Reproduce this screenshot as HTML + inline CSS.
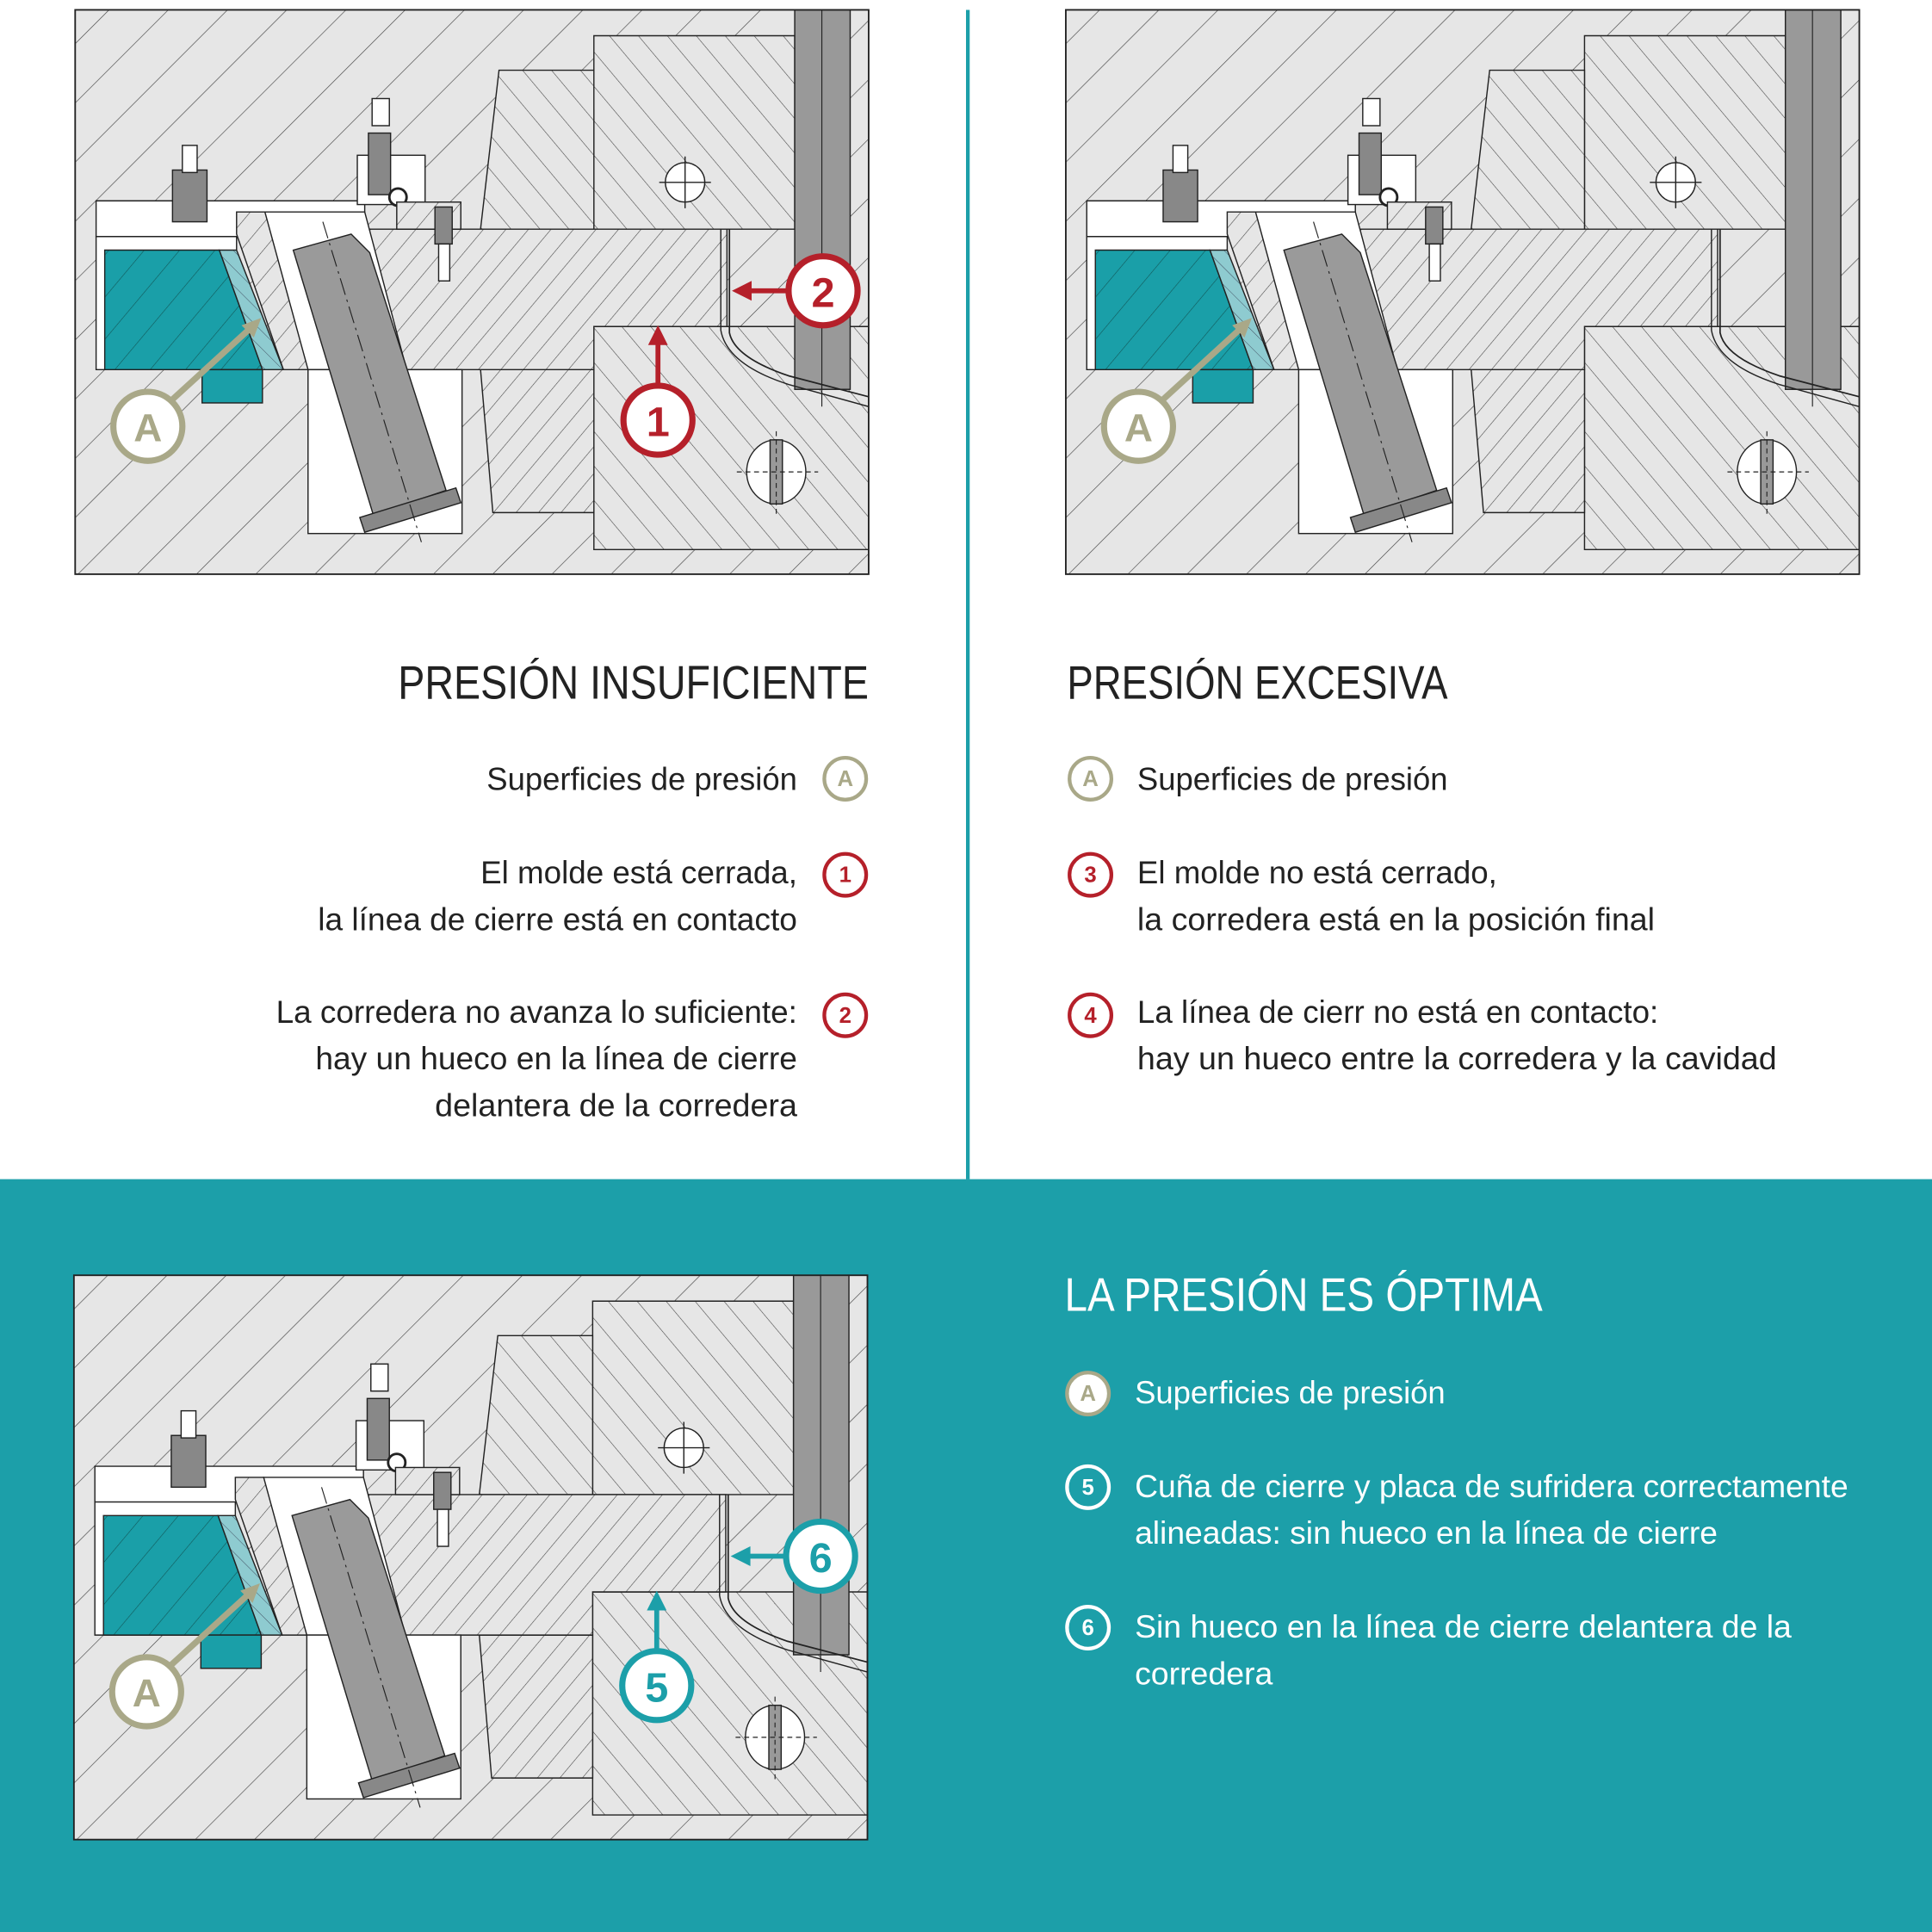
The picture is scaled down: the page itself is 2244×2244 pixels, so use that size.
<!DOCTYPE html>
<html><head><meta charset="utf-8"><style>html,body{margin:0;padding:0;background:#fff}svg{display:block}</style></head>
<body>
<svg width="2244" height="2244" viewBox="0 0 1568 1568" xmlns="http://www.w3.org/2000/svg" font-family="Liberation Sans, sans-serif">
<defs>
<pattern id="hb" patternUnits="userSpaceOnUse" width="34" height="34" patternTransform="rotate(45)"><rect width="34" height="34" fill="#e6e6e6"/><line x1="0" y1="0" x2="0" y2="34" stroke="#444" stroke-width="0.9"/></pattern>
<pattern id="hs" patternUnits="userSpaceOnUse" width="14" height="14" patternTransform="rotate(40)"><rect width="14" height="14" fill="#e6e6e6"/><line x1="0" y1="0" x2="0" y2="14" stroke="#444" stroke-width="0.8"/></pattern>
<pattern id="hr" patternUnits="userSpaceOnUse" width="18" height="18" patternTransform="rotate(-40)"><rect width="18" height="18" fill="#e6e6e6"/><line x1="0" y1="0" x2="0" y2="18" stroke="#444" stroke-width="0.8"/></pattern>
<pattern id="ht" patternUnits="userSpaceOnUse" width="22" height="22" patternTransform="rotate(40)"><rect width="22" height="22" fill="#1a9fa8"/><line x1="0" y1="0" x2="0" y2="22" stroke="#155" stroke-width="0.8"/></pattern>
<pattern id="hl" patternUnits="userSpaceOnUse" width="10" height="10" patternTransform="rotate(-45)"><rect width="10" height="10" fill="#8ecbd0"/><line x1="0" y1="0" x2="0" y2="10" stroke="#456" stroke-width="0.7"/></pattern>
<clipPath id="cp"><rect x="61" y="8" width="644" height="458"/></clipPath>
<g id="d">
<g clip-path="url(#cp)" stroke="#222" stroke-width="1">
<rect x="61" y="8" width="644" height="458" fill="url(#hb)" stroke="none"/>
<polygon points="482,29 645,29 645,186 482,186" fill="url(#hr)"/>
<polygon points="405,57 482,57 482,186 390,186" fill="url(#hr)"/>
<polygon points="482,265 705,265 705,446 482,446" fill="url(#hr)"/>
<polygon points="390,300 482,300 482,416 400,416" fill="url(#hs)"/>
<polygon points="78,163 296,163 296,192 78,192" fill="#fff"/>
<polygon points="78,192 192,192 192,300 78,300" fill="#fff"/>
<polygon points="192,172 215,172 296,186 590,186 590,265 482,265 482,300 230,300 192,190" fill="url(#hs)"/>
<polygon points="215,172 296,172 330,300 250,300" fill="#fff"/>
<polygon points="85,203 178,203 213,300 85,300" fill="url(#ht)"/>
<polygon points="178,203 192,203 230,300 213,300" fill="url(#hl)"/>
<rect x="164" y="300" width="49" height="27" fill="#1a9fa8"/>
<rect x="250" y="300" width="125" height="133" fill="#fff"/>
<polygon points="238,203 285,190 300,205 362,398 303,418" fill="#9a9a9a"/>
<polygon points="292,420 370,396 374,408 296,432" fill="#888"/>
<line x1="262" y1="180" x2="342" y2="440" stroke-dasharray="14,4,2,4" stroke-width="0.8"/>
<rect x="645" y="8" width="45" height="308" fill="#999"/>
<line x1="667" y1="8" x2="667" y2="330" stroke-width="0.8"/>
<path d="M592,186 L592,270 Q596,290 640,305 L705,322" fill="none" stroke-width="1.2"/>
<path d="M585,186 L585,268 Q590,296 640,312 L705,330" fill="none" stroke-width="1"/>
<rect x="140" y="138" width="28" height="42" fill="#888"/>
<rect x="148" y="118" width="12" height="22" fill="#fff"/>
<rect x="302" y="80" width="14" height="22" fill="#fff"/>
<rect x="290" y="126" width="55" height="40" fill="#fff"/>
<rect x="299" y="108" width="18" height="50" fill="#888"/>
<circle cx="323" cy="160" r="7" fill="#fff" stroke-width="2"/>
<rect x="322" y="164" width="52" height="22" fill="url(#hs)"/>
<rect x="353" y="168" width="14" height="30" fill="#888"/>
<rect x="356" y="198" width="9" height="30" fill="#fff"/>
<circle cx="556" cy="148" r="16" fill="#fff"/>
<path d="M535,148 H577 M556,127 V169" stroke-width="1"/>
<ellipse cx="630" cy="383" rx="24" ry="26" fill="#fff"/>
<rect x="625" y="357" width="10" height="52" fill="#999"/>
<path d="M598,383 H664 M630,350 V418" stroke-dasharray="4,3" stroke-width="0.8"/>
</g>
<rect x="61" y="8" width="644" height="458" fill="none" stroke="#222" stroke-width="1.3"/>
<line x1="138" y1="326" x2="208" y2="262" stroke="#a9a888" stroke-width="5"/>
<polygon points="212,258 196,264 206,274" fill="#a9a888"/>
<circle cx="120" cy="346" r="28" fill="#fff" stroke="#a9a888" stroke-width="5"/>
<text x="120" y="358" font-size="32" font-weight="bold" fill="#a9a888" text-anchor="middle">A</text>
</g>
</defs>

<rect width="1568" height="957" fill="#fff"/>
<rect y="957" width="1568" height="611" fill="#1c9fa9"/>
<line x1="785.5" y1="8" x2="785.5" y2="957" stroke="#1c9fa9" stroke-width="3"/>

<use href="#d"/>
<use href="#d" transform="translate(804,0)"/>
<use href="#d" transform="translate(-1,1027)"/>

<g stroke="#b5202a" fill="#b5202a">
<line x1="640" y1="236" x2="605" y2="236" stroke-width="4"/><polygon points="594,236 610,228 610,244" stroke="none"/>
<line x1="534" y1="312" x2="534" y2="275" stroke-width="4"/><polygon points="534,264 526,280 542,280" stroke="none"/>
<circle cx="668" cy="236" r="28" fill="#fff" stroke-width="5"/>
<circle cx="534" cy="341" r="28" fill="#fff" stroke-width="5"/>
</g>
<text x="668" y="249" font-size="34" font-weight="bold" fill="#b5202a" text-anchor="middle">2</text>
<text x="534" y="354" font-size="34" font-weight="bold" fill="#b5202a" text-anchor="middle">1</text>

<g stroke="#1c9fa9" fill="#1c9fa9">
<line x1="638" y1="1263" x2="604" y2="1263" stroke-width="4"/><polygon points="593,1263 609,1255 609,1271" stroke="none"/>
<line x1="533" y1="1340" x2="533" y2="1302" stroke-width="4"/><polygon points="533,1291 525,1307 541,1307" stroke="none"/>
<circle cx="666" cy="1263" r="28" fill="#fff" stroke-width="5"/>
<circle cx="533" cy="1368" r="28" fill="#fff" stroke-width="5"/>
</g>
<text x="666" y="1276" font-size="34" font-weight="bold" fill="#1c9fa9" text-anchor="middle">6</text>
<text x="533" y="1381" font-size="34" font-weight="bold" fill="#1c9fa9" text-anchor="middle">5</text>

<g fill="#222">
<text x="323" y="567" font-size="38" textLength="382" lengthAdjust="spacingAndGlyphs">PRESIÓN INSUFICIENTE</text>
<g font-size="26">
<text x="395" y="641" textLength="252" lengthAdjust="spacingAndGlyphs">Superficies de presión</text>
<text x="390" y="717" textLength="257" lengthAdjust="spacingAndGlyphs">El molde está cerrada,</text>
<text x="258" y="755" textLength="389" lengthAdjust="spacingAndGlyphs">la línea de cierre está en contacto</text>
<text x="224" y="830" textLength="423" lengthAdjust="spacingAndGlyphs">La corredera no avanza lo suficiente:</text>
<text x="256" y="868" textLength="391" lengthAdjust="spacingAndGlyphs">hay un hueco en la línea de cierre</text>
<text x="353" y="906" textLength="294" lengthAdjust="spacingAndGlyphs">delantera de la corredera</text>
</g>
<text x="866" y="567" font-size="38" textLength="309" lengthAdjust="spacingAndGlyphs">PRESIÓN EXCESIVA</text>
<g font-size="26">
<text x="923" y="641" textLength="252" lengthAdjust="spacingAndGlyphs">Superficies de presión</text>
<text x="923" y="717" textLength="292" lengthAdjust="spacingAndGlyphs">El molde no está cerrado,</text>
<text x="923" y="755" textLength="420" lengthAdjust="spacingAndGlyphs">la corredera está en la posición final</text>
<text x="923" y="830" textLength="423" lengthAdjust="spacingAndGlyphs">La línea de cierr no está en contacto:</text>
<text x="923" y="868" textLength="519" lengthAdjust="spacingAndGlyphs">hay un hueco entre la corredera y la cavidad</text>
</g>
</g>
<g stroke-width="3" fill="#fff">
<circle cx="686" cy="632" r="17" stroke="#a9a888"/>
<circle cx="686" cy="710" r="17" stroke="#b5202a"/>
<circle cx="686" cy="824" r="17" stroke="#b5202a"/>
<circle cx="885" cy="632" r="17" stroke="#a9a888"/>
<circle cx="885" cy="710" r="17" stroke="#b5202a"/>
<circle cx="885" cy="824" r="17" stroke="#b5202a"/>
<circle cx="883" cy="1131" r="17" stroke="#a9a888"/>
<circle cx="883" cy="1207" r="17" stroke="#fff" fill="none"/>
<circle cx="883" cy="1321" r="17" stroke="#fff" fill="none"/>
</g>
<g font-size="18" font-weight="bold" text-anchor="middle">
<text x="686" y="638" fill="#a9a888">A</text>
<text x="686" y="716" fill="#b5202a">1</text>
<text x="686" y="830" fill="#b5202a">2</text>
<text x="885" y="638" fill="#a9a888">A</text>
<text x="885" y="716" fill="#b5202a">3</text>
<text x="885" y="830" fill="#b5202a">4</text>
<text x="883" y="1137" fill="#a9a888">A</text>
<text x="883" y="1213" fill="#fff">5</text>
<text x="883" y="1327" fill="#fff">6</text>
</g>
<g fill="#fff">
<text x="864" y="1064" font-size="38" textLength="388" lengthAdjust="spacingAndGlyphs">LA PRESIÓN ES ÓPTIMA</text>
<g font-size="26">
<text x="921" y="1139" textLength="252" lengthAdjust="spacingAndGlyphs">Superficies de presión</text>
<text x="921" y="1215" textLength="579" lengthAdjust="spacingAndGlyphs">Cuña de cierre y placa de sufridera correctamente</text>
<text x="921" y="1253" textLength="473" lengthAdjust="spacingAndGlyphs">alineadas: sin hueco en la línea de cierre</text>
<text x="921" y="1329" textLength="533" lengthAdjust="spacingAndGlyphs">Sin hueco en la línea de cierre delantera de la</text>
<text x="921" y="1367" textLength="112" lengthAdjust="spacingAndGlyphs">corredera</text>
</g>
</g>
</svg>
</body></html>
